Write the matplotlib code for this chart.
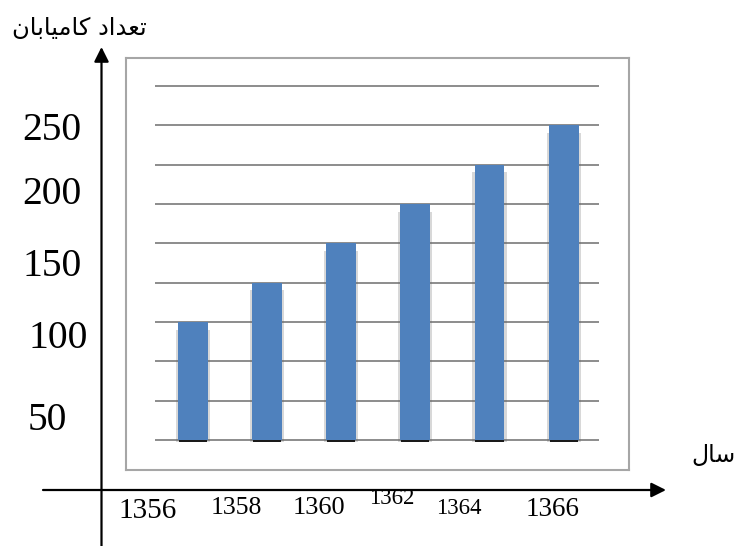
import matplotlib.pyplot as plt

# chart values (bar heights in gridline steps)
years = ['1356', '1358', '1360', '1362', '1364', '1366']
values = [3, 4, 5, 6, 7, 8]
y_labels = ['250', '200', '150', '100', '50']

# label layout in pixel coords of the outer frame
y_label_pos = [(22, 131, 28.5), (22, 195, 28.5), (22, 267, 28.5), (28, 338, 28.5), (28, 420, 28.5)]
x_label_pos = [(148, 511, 21), (236, 508, 18.5), (319, 508, 19), (392, 498, 16.5), (459, 508, 16.5), (553, 509, 19.5)]


def shape_fa(word_forms):
    # presentation forms are given in logical order; reverse for LTR drawing
    return ''.join(word_forms)[::-1]


# تعداد کامیابان  /  سال
title_text = shape_fa(['\uFE97\uFECC\uFEAA\uFE8D\uFEA9', ' ',
                       '\uFB90\uFE8E\uFEE3\uFBFF\uFE8E\uFE91\uFE8E\uFEE5'])
xname_text = shape_fa(['\uFEB3\uFE8E\uFEDD'])

fig = plt.figure(figsize=(7.39, 5.46), dpi=100)

# outer frame with the arrows, in pixel coordinates
ax0 = fig.add_axes([0, 0, 1, 1])
ax0.set_xlim(0, 739)
ax0.set_ylim(546, 0)
ax0.axis('off')

arrow = dict(arrowstyle='-|>', color='black', lw=1.6, mutation_scale=22, shrinkA=0, shrinkB=0)
ax0.annotate('', xy=(101.5, 47), xytext=(101.5, 546), arrowprops=arrow)
ax0.annotate('', xy=(666, 490), xytext=(43, 490), arrowprops=arrow)

for lab, (x, y, fs) in zip(y_labels, y_label_pos):
    ax0.text(x, y, lab, ha='left', va='center', fontsize=fs, family='Liberation Serif')
for lab, (x, y, fs) in zip(years, x_label_pos):
    ax0.text(x, y, lab, ha='center', va='center', fontsize=fs, family='Liberation Serif')

ax0.text(147, 28, title_text, ha='right', va='center', fontsize=17.5, family='DejaVu Sans')
ax0.text(736, 455, xname_text, ha='right', va='center', fontsize=17, family='DejaVu Sans')

# inner bar chart inside a gray box
ax = fig.add_axes([126 / 739, (546 - 470) / 546, 503 / 739, 412 / 546])
ax.set_xlim(-0.899, 5.88)
ax.set_ylim(-0.763, 9.71)
for s in ax.spines.values():
    s.set_color('#a6a6a6')
    s.set_linewidth(1.5)
ax.set_xticks([])
ax.set_yticks([])

ax.hlines(range(10), -0.508, 5.475, color='#8c8c8c', lw=1.4, zorder=1)

pos = list(range(len(values)))
# soft shadow behind bars
ax.bar(pos, [v - 0.15 for v in values], bottom=-0.05, width=0.46, color='#666666', alpha=0.25, zorder=2)
ax.bar(pos, [0.06] * len(values), bottom=-0.05, width=0.38, color='#1a1a1a', zorder=2)
ax.bar(pos, values, width=0.40, color='#4f81bd', zorder=3)

fig.savefig('out.png', dpi=100)
